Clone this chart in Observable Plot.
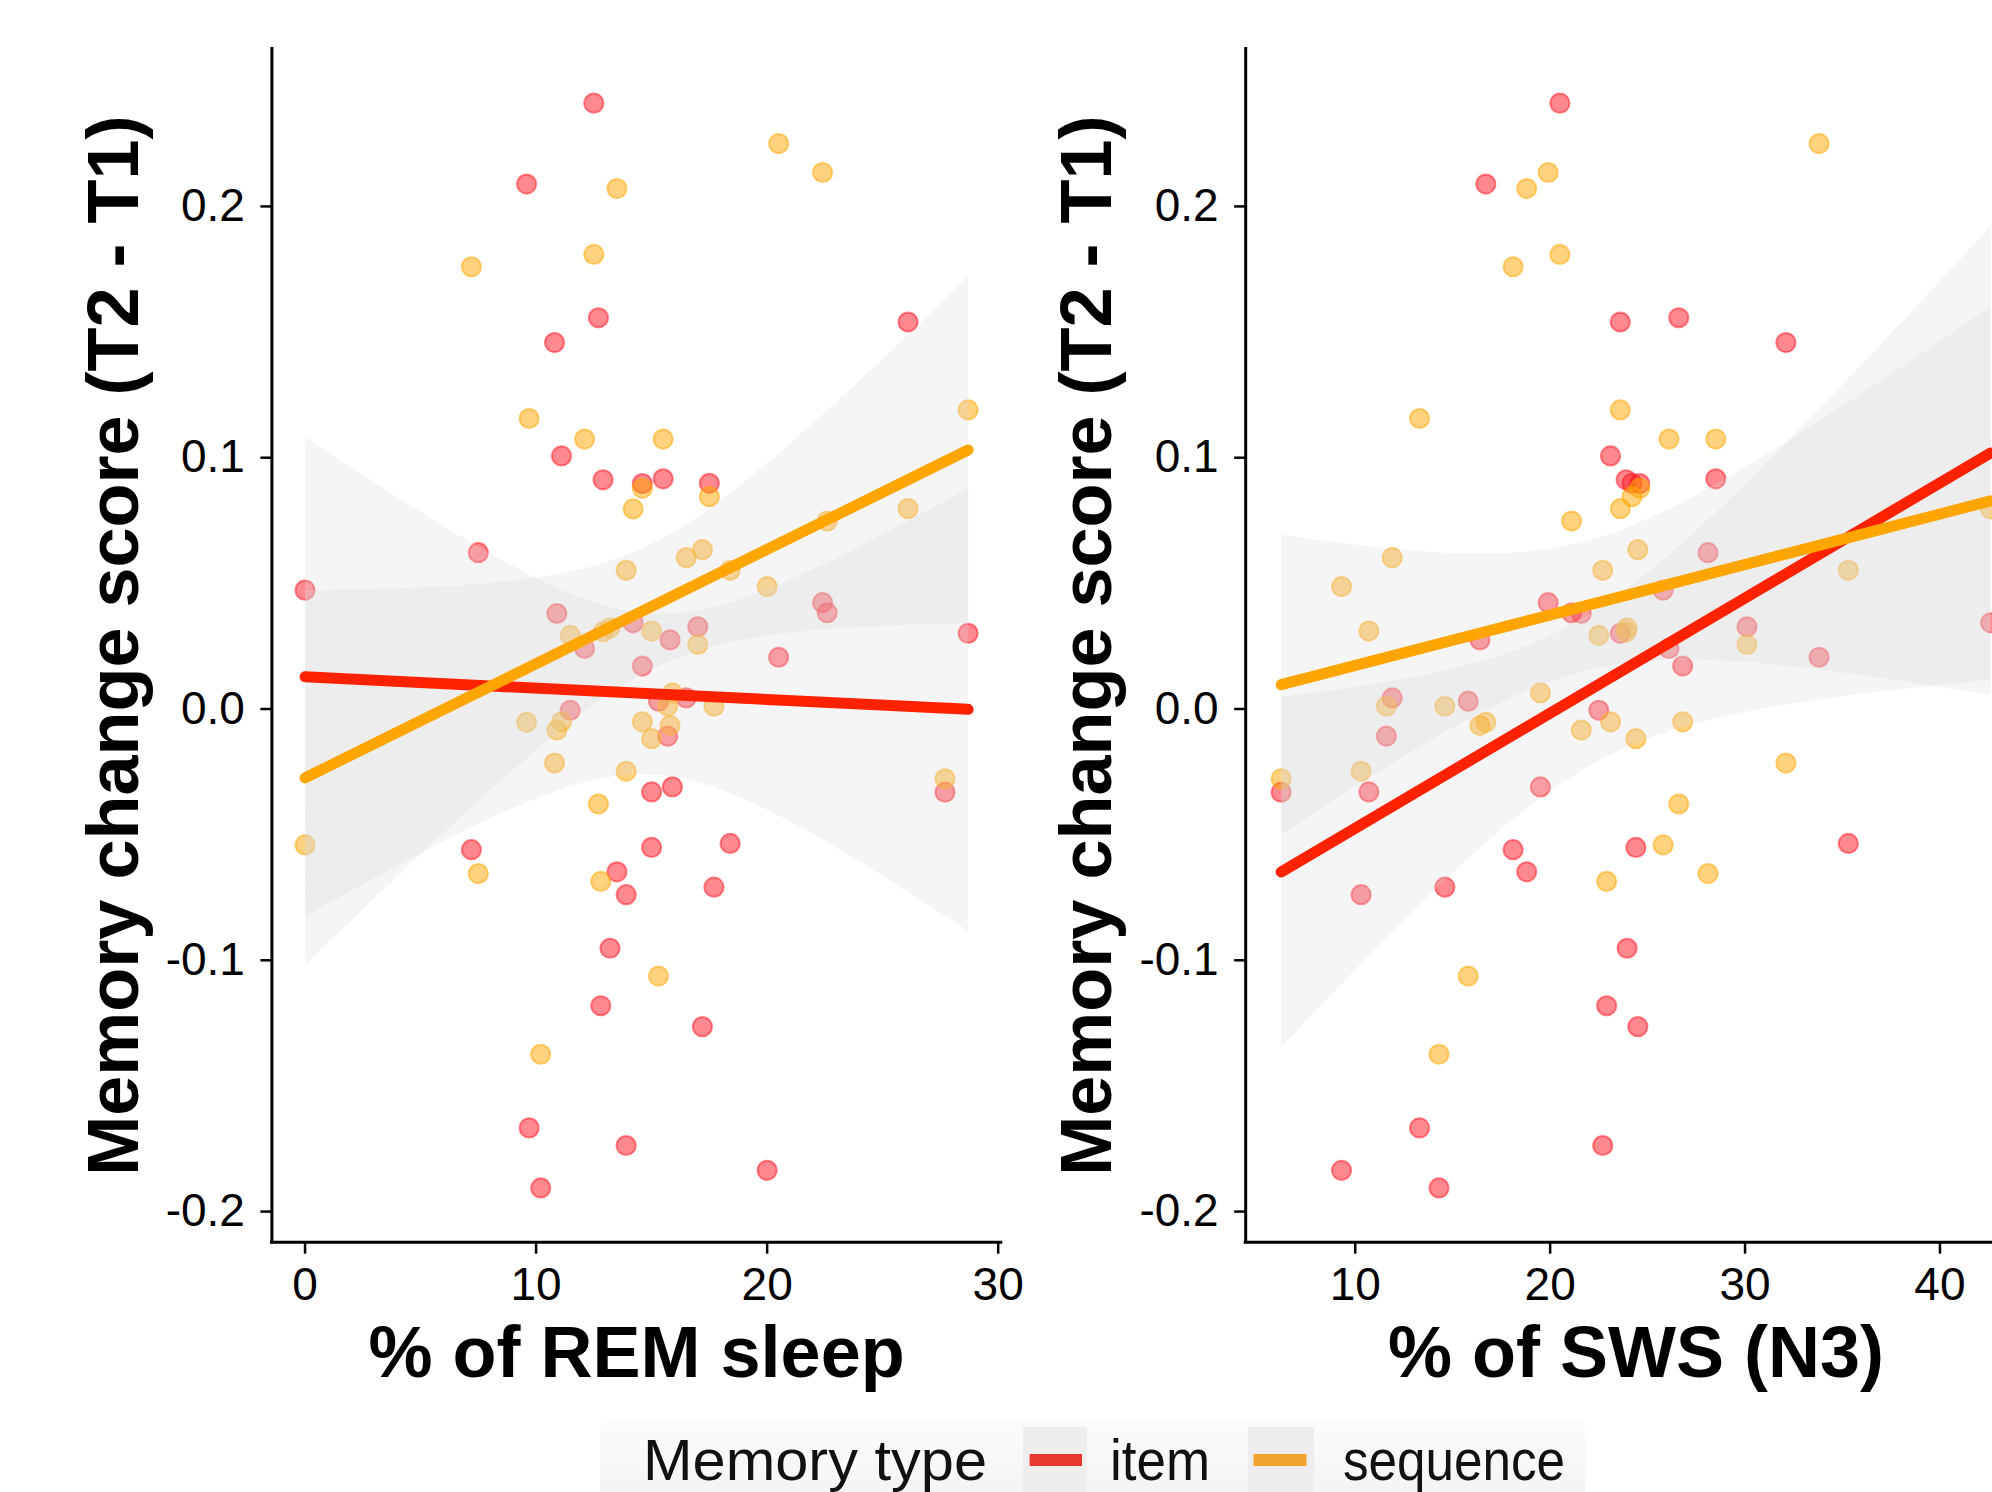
<!DOCTYPE html>
<html>
<head>
<meta charset="utf-8">
<script src="https://cdn.jsdelivr.net/npm/d3@7"></script>
<script src="https://cdn.jsdelivr.net/npm/@observablehq/plot@0.6"></script>
<style>
  html, body { margin: 0; padding: 0; background: #fff; overflow: hidden; width: 1992px; height: 1492px; }
  #root { position: relative; width: 1992px; height: 1492px; overflow: hidden; font-family: "Liberation Sans", Arial, sans-serif; }
  #left { position: absolute; left: 0; top: 0; }
  #right { position: absolute; left: 1030px; top: 0; }
  #legend { position: absolute; left: 0; top: 0; pointer-events: none; }
</style>
</head>
<body>
<div id="root">
  <div id="left"></div>
  <div id="right"></div>
</div>
<script>
// ---- data (one entry per participant) ----
const remPct = [0.0, 7.2, 7.5, 9.59, 9.7, 10.2, 10.8, 10.9, 11.1, 11.48, 12.1, 12.5, 12.7, 12.8, 12.9, 13.2, 13.5, 13.9, 13.9, 14.2, 14.6, 14.6, 15.0, 15.0, 15.3, 15.5, 15.7, 15.8, 15.9, 16.5, 17.0, 17.2, 17.5, 17.7, 18.4, 20.0, 20.5, 22.4, 22.6, 26.1, 27.7, 28.7];
const swsPct = [25.8, 18.1, 28.1, 16.7, 13.3, 14.3, 32.1, 21.6, 23.1, 22.5, 26.1, 20.5, 26.6, 22.9, 23.9, 23.95, 18.8, 22.7, 10.3, 42.6, 24.6, 26.8, 10.7, 24.4, 15.8, 28.5, 11.6, 16.4, 19.5, 11.9, 30.1, 24.5, 24.2, 14.6, 35.3, 9.3, 33.8, 19.9, 21.1, 23.6, 6.2, 23.6];
const itemChange = [0.0473, -0.0560, 0.0622, 0.2089, -0.1667, -0.1906, 0.1458, 0.0380, 0.1007, -0.0005, 0.0241, 0.2411, 0.1557, -0.1181, 0.0912, -0.0952, -0.0648, -0.1737, -0.0739, 0.0343, 0.0897, 0.0171, -0.0330, -0.0551, 0.0031, 0.0916, -0.0108, 0.0275, -0.0310, 0.0044, 0.0327, -0.1264, 0.0898, -0.0709, -0.0535, -0.1836, 0.0206, 0.0423, 0.0383, 0.1540, -0.0331, 0.0301];
const sequenceChange = [-0.0541, 0.1760, -0.0655, -0.0053, 0.1156, -0.1374, -0.0215, -0.0084, -0.0051, 0.0293, 0.1074, 0.1809, -0.0378, -0.0686, 0.0307, 0.0323, 0.2071, 0.0552, -0.0248, 0.0796, 0.0878, -0.0051, 0.0310, -0.0118, -0.1063, 0.1074, 0.0011, -0.0066, 0.0064, 0.0602, 0.0257, 0.0634, 0.0845, 0.0011, 0.0552, 0.0487, 0.2250, 0.2135, 0.0748, 0.0797, -0.0278, 0.1190];

const memoryTypes = ["item", "sequence"];
const yTicks = [-0.2, -0.1, 0.0, 0.1, 0.2];
const remTicks = [0, 10, 20, 30];
const swsTicks = [10, 20, 30, 40];
const yTitle = "Memory change score (T2 - T1)";
const remTitle = "% of REM sleep";
const swsTitle = "% of SWS (N3)";
const legendTitle = "Memory type";

const lineColors = {item: "#ff2200", sequence: "#ffa500"};
const dotColors = {item: "#ff1420", sequence: "#ffa500"};
const keyColors = {item: "#e8392f", sequence: "#f2a431"};

// long-format table built from the arrays
const rows = memoryTypes.flatMap(type =>
  remPct.map((r, i) => ({
    type,
    rem: r,
    sws: swsPct[i],
    score: type === "item" ? itemChange[i] : sequenceChange[i]
  }))
);

function expand([a, b]) { const p = (b - a) * 0.05; return [a - p, b + p]; }
const yDomain = expand(d3.extent(rows, d => d.score));
const FONT = '"Liberation Sans", Arial, sans-serif';

function panel({xKey, xTicks, xTitle, width, marginLeft, marginRight}) {
  const xDomain = expand(d3.extent(rows, d => d[xKey]));
  const byType = t => rows.filter(d => d.type === t);
  return Plot.plot({
    width,
    height: 1400,
    marginTop: 48.4,
    marginBottom: 158.3,
    marginLeft,
    marginRight,
    style: {fontFamily: FONT, background: "transparent", overflow: "visible", maxWidth: "none", color: "black"},
    x: {domain: xDomain},
    y: {domain: yDomain},
    marks: [
      // points
      ...memoryTypes.map(t => Plot.dot(byType(t), {
        x: xKey, y: "score", r: 9.6,
        fill: dotColors[t], fillOpacity: 0.5,
        stroke: dotColors[t], strokeOpacity: 0.5, strokeWidth: 2
      })),
      // confidence bands (95%)
      ...memoryTypes.map(t => Plot.linearRegressionY(byType(t), {
        x: xKey, y: "score",
        stroke: "none", fill: "#d9d9d9", fillOpacity: 0.26, ci: 0.95
      })),
      // fitted lines on top
      ...memoryTypes.map(t => Plot.linearRegressionY(byType(t), {
        x: xKey, y: "score", ci: 0,
        stroke: lineColors[t], strokeWidth: 11
      })),
      Plot.ruleX([xDomain[0]], {stroke: "black", strokeWidth: 3, strokeLinecap: "square"}),
      Plot.ruleY([yDomain[0]], {stroke: "black", strokeWidth: 3, strokeLinecap: "square"}),
      Plot.axisY(yTicks, {
        label: null, tickSize: 11, tickPadding: 16, fontSize: 46,
        strokeWidth: 2.5, tickFormat: d => d.toFixed(1), fill: "black"
      }),
      Plot.axisX(xTicks, {
        label: null, tickSize: 12, tickPadding: 13, fontSize: 46,
        strokeWidth: 2.5, tickFormat: d => String(d), fill: "black"
      }),
      Plot.text([yTitle], {
        text: d => d, frameAnchor: "left", textAnchor: "middle", lineAnchor: "middle",
        rotate: -90, dx: -157.4,
        fontSize: 72, fontWeight: "bold", fill: "black"
      }),
      Plot.text([xTitle], {
        text: d => d, frameAnchor: "bottom", textAnchor: "middle", lineAnchor: "middle",
        dy: 111.3,
        fontSize: 72, fontWeight: "bold", fill: "black"
      })
    ]
  });
}

document.getElementById("left").appendChild(panel({
  xKey: "rem", xTicks: remTicks, xTitle: remTitle,
  width: 1030, marginLeft: 271.4, marginRight: 29.2
}));
document.getElementById("right").appendChild(panel({
  xKey: "sws", xTicks: swsTicks, xTitle: swsTitle,
  width: 1006, marginLeft: 215.2, marginRight: 10.4
}));

// ---- legend (bottom, partly cut by the frame like the original) ----
const svg = d3.select("#root").append("svg")
  .attr("id", "legend").attr("width", 1992).attr("height", 1492)
  .style("font-family", FONT);
const defs = svg.append("defs");
const grad = defs.append("linearGradient").attr("id", "lgbg").attr("x1", 0).attr("y1", 0).attr("x2", 0).attr("y2", 1);
grad.append("stop").attr("offset", "0%").attr("stop-color", "#fbfbfb");
grad.append("stop").attr("offset", "100%").attr("stop-color", "#f3f3f3");
svg.append("rect").attr("x", 600).attr("y", 1422).attr("width", 985).attr("height", 90)
  .attr("rx", 4).attr("fill", "url(#lgbg)");
svg.append("text").attr("x", 643).attr("y", 1480).attr("font-size", 57)
  .attr("fill", "#111").attr("textLength", 344).attr("lengthAdjust", "spacingAndGlyphs")
  .text(legendTitle);
const keys = [
  {type: "item", bgX: 1023, bgW: 64, lineX: 1029.6, lineW: 52.4, textX: 1110, textW: 100},
  {type: "sequence", bgX: 1248, bgW: 66, lineX: 1253.5, lineW: 53, textX: 1343, textW: 222}
];
for (const k of keys) {
  svg.append("rect").attr("x", k.bgX).attr("y", 1427).attr("width", k.bgW).attr("height", 70).attr("fill", "#eeeeee");
  svg.append("rect").attr("x", k.lineX).attr("y", 1454).attr("width", k.lineW).attr("height", 12).attr("fill", keyColors[k.type]);
  svg.append("text").attr("x", k.textX).attr("y", 1480).attr("font-size", 57)
    .attr("fill", "#111").attr("textLength", k.textW).attr("lengthAdjust", "spacingAndGlyphs")
    .text(k.type);
}
</script>
</body>
</html>
